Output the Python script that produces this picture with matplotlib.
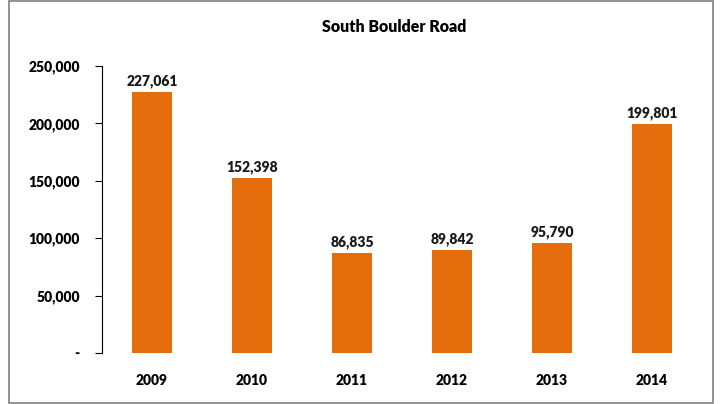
import matplotlib.pyplot as plt
from matplotlib.patches import Rectangle
from matplotlib.ticker import FuncFormatter

years = ['2009', '2010', '2011', '2012', '2013', '2014']
counts = [227061, 152398, 86835, 89842, 95790, 199801]
yticks = [0, 50000, 100000, 150000, 200000, 250000]

plt.rcParams['font.family'] = ['Lato', 'DejaVu Sans']
W = 'heavy'

fig = plt.figure(figsize=(7.2, 4.04), dpi=100)
ax = fig.add_axes([102/720, 1 - 353/404, 600/720, (353 - 66)/404])

bars = ax.bar(range(len(years)), counts, width=0.4, color='#E46C0A')
for b, v in zip(bars, counts):
    ax.text(b.get_x() + b.get_width()/2, v + 3500, f'{v:,}', ha='center', va='bottom',
            fontsize=10, fontweight=W, color='#1a1a1a')

ax.set_xlim(-0.5, len(years) - 0.5)
ax.set_ylim(0, 250000)
ax.set_yticks(yticks)
ax.yaxis.set_major_formatter(FuncFormatter(lambda v, p: '-' if v == 0 else f'{int(v):,}'))
ax.set_xticks(range(len(years)))
ax.set_xticklabels(years)
for s in ['top', 'right', 'bottom']:
    ax.spines[s].set_visible(False)
ax.spines['left'].set_color('black')
ax.tick_params(axis='x', length=0, pad=15, labelsize=10)
ax.tick_params(axis='y', length=5, pad=11, labelsize=10, direction='out')
for t in ax.get_xticklabels() + ax.get_yticklabels():
    t.set_fontweight(W)

fig.text(394/720, 1 - 27/404, 'South Boulder Road', ha='center', va='center',
         fontsize=11.5, fontweight=W)
fig.patches.append(Rectangle((9/720, 1/404), 704/720, 402/404, transform=fig.transFigure,
                             fill=False, edgecolor='#7f7f7f', linewidth=1.2))

fig.savefig('out.png', dpi=100)
